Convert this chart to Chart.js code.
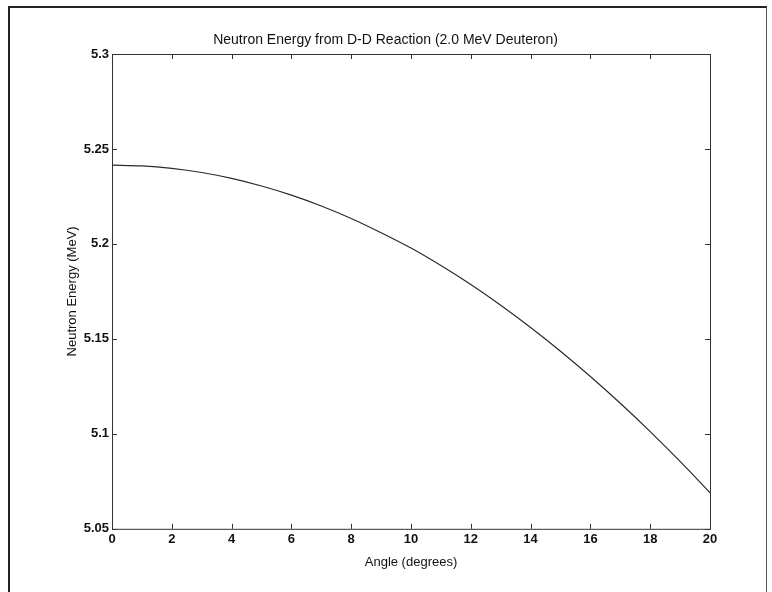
<!DOCTYPE html>
<html>
<head>
<meta charset="utf-8">
<title>Neutron Energy from D-D Reaction</title>
<script src="https://cdn.jsdelivr.net/npm/chart.js@4/dist/chart.umd.min.js"></script>
<style>
  html, body { margin: 0; padding: 0; background: #fff; }
  #wrap { position: relative; width: 772px; height: 592px; }
  #frame {
    position: absolute; left: 8px; top: 6px; width: 756px; height: 600px;
    border-top: 2px solid #222; border-left: 2px solid #222; border-right: 1px solid #555;
    pointer-events: none;
  }
</style>
</head>
<body>
<div id="wrap">
  <canvas id="chart" width="772" height="592"></canvas>
  <div id="frame"></div>
</div>
<script>
// Neutron energy vs angle
const angles = [0, 1, 2, 3, 4, 5, 6, 7, 8, 9, 10, 11, 12, 13, 14, 15, 16, 17, 18, 19, 20];
const energies = [5.2415, 5.2411, 5.2398, 5.2376, 5.2345, 5.2305, 5.2257, 5.2200, 5.2134, 5.2059, 5.1978,
  5.1886, 5.1786, 5.1677, 5.1560, 5.1435, 5.1302, 5.1161, 5.1012, 5.0855, 5.0690];
const xTicks = [0, 2, 4, 6, 8, 10, 12, 14, 16, 18, 20];
const yTicks = [5.05, 5.1, 5.15, 5.2, 5.25, 5.3];

const AXIS = '#333';
const TICK_LEN = 5;

// MATLAB style box with inward tick marks on all four sides
const boxTicks = {
  id: 'boxTicks',
  afterDraw(chart) {
    const { ctx, chartArea: a, scales } = chart;
    ctx.save();
    ctx.strokeStyle = AXIS;
    ctx.lineWidth = 1;
    ctx.strokeRect(a.left + 0.5, a.top + 0.5, a.right - a.left, a.bottom - a.top);
    ctx.beginPath();
    scales.x.ticks.forEach(t => {
      const px = Math.round(scales.x.getPixelForValue(t.value)) + 0.5;
      ctx.moveTo(px, a.bottom); ctx.lineTo(px, a.bottom - TICK_LEN);
      ctx.moveTo(px, a.top); ctx.lineTo(px, a.top + TICK_LEN);
    });
    scales.y.ticks.forEach(t => {
      const py = Math.round(scales.y.getPixelForValue(t.value)) + 0.5;
      ctx.moveTo(a.left, py); ctx.lineTo(a.left + TICK_LEN, py);
      ctx.moveTo(a.right, py); ctx.lineTo(a.right - TICK_LEN, py);
    });
    ctx.stroke();
    ctx.restore();
  }
};

const ctx = document.getElementById('chart').getContext('2d');
new Chart(ctx, {
  type: 'line',
  data: {
    datasets: [{
      data: angles.map((a, i) => ({ x: a, y: energies[i] })),
      borderColor: '#2b2b2b',
      borderWidth: 1.2,
      pointRadius: 0,
      tension: 0.3,
      fill: false
    }]
  },
  options: {
    responsive: false,
    animation: false,
    layout: { padding: { left: 61, right: 62, top: 0, bottom: 18 } },
    plugins: {
      legend: { display: false },
      tooltip: { enabled: false },
      title: {
        display: true,
        text: 'Neutron Energy from D-D Reaction (2.0 MeV Deuteron)',
        color: '#111',
        font: { family: 'Liberation Sans', size: 14, weight: 'normal' },
        padding: { top: 32, bottom: 5.2 }
      }
    },
    scales: {
      x: {
        type: 'linear',
        min: 0, max: 20,
        afterBuildTicks: s => { s.ticks = xTicks.map(v => ({ value: v })); },
        ticks: {
          color: '#111', padding: 3, maxRotation: 0,
          font: { family: 'Liberation Sans', size: 13, weight: 'bold' }
        },
        grid: { drawOnChartArea: false, drawTicks: false },
        border: { display: false },
        title: {
          display: true, text: 'Angle (degrees)', color: '#111',
          font: { family: 'Liberation Sans', size: 13, weight: 'normal' },
          padding: { top: 4, bottom: 4 }
        }
      },
      y: {
        type: 'linear',
        min: 5.05, max: 5.3,
        afterBuildTicks: s => { s.ticks = yTicks.map(v => ({ value: v })); },
        afterFit: s => { s.width = 51; },
        ticks: {
          color: '#111', padding: 3,
          font: { family: 'Liberation Sans', size: 13, weight: 'bold' },
          callback: v => String(Number(v.toFixed(2)))
        },
        grid: { drawOnChartArea: false, drawTicks: false },
        border: { display: false },
        title: {
          display: true, text: 'Neutron Energy (MeV)', color: '#111',
          font: { family: 'Liberation Sans', size: 13, weight: 'normal' },
          padding: { top: 4, bottom: 4 }
        }
      }
    }
  },
  plugins: [boxTicks]
});
</script>
</body>
</html>
